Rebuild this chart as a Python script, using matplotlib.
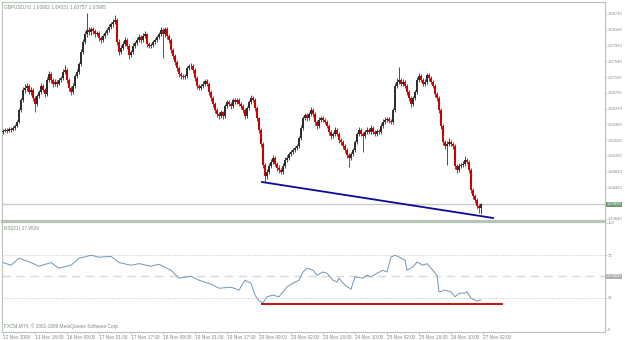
import matplotlib
matplotlib.use("Agg")
import matplotlib.pyplot as plt
import numpy as np

# ---------------- data (GBPUSD, H1) ----------------
first_open = 1.6579
closes = [
    1.6581, 1.6584, 1.6581, 1.6586, 1.6584, 1.6589, 1.6594, 1.6604, 1.6633, 1.6658,
    1.6683, 1.6688, 1.6693, 1.6678, 1.6683, 1.6663, 1.6648, 1.6668, 1.6678, 1.6693,
    1.6683, 1.6673, 1.6708, 1.6722, 1.6708, 1.6698, 1.6703, 1.6698, 1.6708, 1.6712,
    1.6727, 1.6732, 1.6708, 1.6688, 1.6678, 1.6693, 1.6717, 1.6727, 1.6747, 1.6777,
    1.6802, 1.6821, 1.6831, 1.6826, 1.6834, 1.6829, 1.6821, 1.6824, 1.6812, 1.6807,
    1.6817, 1.6824, 1.6831, 1.6839, 1.6846, 1.6851, 1.6856, 1.6802, 1.6777, 1.6787,
    1.6797, 1.6807, 1.6792, 1.6769, 1.6777, 1.6792, 1.6799, 1.6807, 1.6814, 1.6807,
    1.6817, 1.6821, 1.6797, 1.6792, 1.6794, 1.6802, 1.6807, 1.6814, 1.6821, 1.6831,
    1.6821, 1.6834, 1.6817, 1.6807, 1.6782, 1.6767, 1.6752, 1.6737, 1.6722, 1.6717,
    1.6715, 1.6717, 1.6737, 1.6742, 1.6742, 1.6732, 1.6712, 1.6693, 1.6688, 1.6693,
    1.6698, 1.6705, 1.6698, 1.6678, 1.6663, 1.6648, 1.6633, 1.6623, 1.6618, 1.6628,
    1.6618, 1.6643, 1.6653, 1.6648, 1.6643, 1.6658, 1.6653, 1.6658, 1.6648, 1.6643,
    1.6633, 1.6618, 1.6638, 1.6653, 1.6663, 1.6658, 1.6638, 1.6613, 1.6584, 1.6549,
    1.6497, 1.6470, 1.6480, 1.6495, 1.6505, 1.6515, 1.6500, 1.6490, 1.6485, 1.6480,
    1.6495, 1.6510, 1.6515, 1.6524, 1.6529, 1.6534, 1.6539, 1.6544, 1.6564, 1.6589,
    1.6613, 1.6621, 1.6613, 1.6623, 1.6633, 1.6623, 1.6604, 1.6594, 1.6609, 1.6613,
    1.6609, 1.6604, 1.6594, 1.6579, 1.6569, 1.6574, 1.6584, 1.6574, 1.6559, 1.6554,
    1.6544, 1.6534, 1.6522, 1.6515, 1.6524, 1.6534, 1.6554, 1.6574, 1.6584, 1.6574,
    1.6569, 1.6579, 1.6584, 1.6579, 1.6589, 1.6579, 1.6574, 1.6581, 1.6579, 1.6594,
    1.6604, 1.6609, 1.6611, 1.6606, 1.6604, 1.6633, 1.6693, 1.6703, 1.6708, 1.6698,
    1.6703, 1.6693, 1.6678, 1.6663, 1.6648, 1.6663, 1.6678, 1.6708, 1.6717, 1.6708,
    1.6698, 1.6703, 1.6720, 1.6712, 1.6703, 1.6693, 1.6673, 1.6663, 1.6633, 1.6594,
    1.6554, 1.6544, 1.6549, 1.6554, 1.6549, 1.6544, 1.6495, 1.6485, 1.6495, 1.6497,
    1.6500, 1.6510, 1.6505, 1.6485, 1.6435, 1.6420, 1.6411, 1.6396, 1.6390, 1.63995,
]
highs = [
    1.6586, 1.6588, 1.6589, 1.6590, 1.6591, 1.6593, 1.6598, 1.6609, 1.6638, 1.6664,
    1.6690, 1.6697, 1.6700, 1.6698, 1.6691, 1.6688, 1.6667, 1.6673, 1.6684, 1.6700,
    1.6698, 1.6688, 1.6714, 1.6730, 1.6727, 1.6712, 1.6709, 1.6707, 1.6713, 1.6718,
    1.6734, 1.6745, 1.6737, 1.6712, 1.6693, 1.6699, 1.6723, 1.6734, 1.6753, 1.6784,
    1.6810, 1.6829, 1.6873, 1.6838, 1.6840, 1.6839, 1.6833, 1.6830, 1.6828, 1.6817,
    1.6822, 1.6830, 1.6837, 1.6845, 1.6852, 1.6858, 1.6869, 1.6860, 1.6808, 1.6795,
    1.6803, 1.6815, 1.6812, 1.6797, 1.6783, 1.6798, 1.6805, 1.6813, 1.6821, 1.6819,
    1.6824, 1.6829, 1.6825, 1.6802, 1.6799, 1.6807, 1.6812, 1.6820, 1.6827, 1.6838,
    1.6836, 1.6840, 1.6839, 1.6822, 1.6812, 1.6787, 1.6772, 1.6757, 1.6742, 1.6727,
    1.6722, 1.6723, 1.6743, 1.6748, 1.6749, 1.6746, 1.6737, 1.6717, 1.6698, 1.6698,
    1.6704, 1.6711, 1.6709, 1.6703, 1.6683, 1.6668, 1.6653, 1.6638, 1.6628, 1.6634,
    1.6632, 1.6649, 1.6659, 1.6658, 1.6653, 1.6664, 1.6662, 1.6663, 1.6662, 1.6653,
    1.6648, 1.6638, 1.6644, 1.6659, 1.6671, 1.6668, 1.6662, 1.6642, 1.6617, 1.6588,
    1.6553, 1.6501, 1.6487, 1.6502, 1.6512, 1.6522, 1.6519, 1.6505, 1.6496, 1.6490,
    1.6501, 1.6516, 1.6521, 1.6530, 1.6535, 1.6540, 1.6545, 1.6550, 1.6570, 1.6595,
    1.6619, 1.6627, 1.6626, 1.6629, 1.6641, 1.6638, 1.6628, 1.6609, 1.6615, 1.6619,
    1.6618, 1.6614, 1.6609, 1.6599, 1.6584, 1.6580, 1.6590, 1.6589, 1.6579, 1.6564,
    1.6559, 1.6549, 1.6539, 1.6527, 1.6530, 1.6540, 1.6560, 1.6580, 1.6590, 1.6589,
    1.6579, 1.6585, 1.6590, 1.6589, 1.6595, 1.6594, 1.6584, 1.6587, 1.6586, 1.6600,
    1.6610, 1.6615, 1.6617, 1.6616, 1.6611, 1.6639, 1.6700, 1.6712, 1.6740, 1.6713,
    1.6709, 1.6708, 1.6698, 1.6683, 1.6668, 1.6669, 1.6684, 1.6714, 1.6724, 1.6722,
    1.6713, 1.6709, 1.6726, 1.6725, 1.6717, 1.6708, 1.6698, 1.6678, 1.6668, 1.6638,
    1.6599, 1.6559, 1.6556, 1.6565, 1.6560, 1.6555, 1.6549, 1.6500, 1.6501, 1.6503,
    1.6506, 1.6520, 1.6515, 1.6510, 1.6490, 1.6440, 1.6425, 1.6416, 1.6401, 1.64031,
]
lows = [
    1.6575, 1.6578, 1.6577, 1.6578, 1.6580, 1.6581, 1.6585, 1.6590, 1.6600, 1.6628,
    1.6652, 1.6676, 1.6680, 1.6672, 1.6670, 1.6655, 1.6628, 1.6642, 1.6662, 1.6673,
    1.6677, 1.6665, 1.6668, 1.6702, 1.6700, 1.6690, 1.6692, 1.6690, 1.6694, 1.6702,
    1.6707, 1.6722, 1.6700, 1.6680, 1.6670, 1.6673, 1.6688, 1.6712, 1.6722, 1.6742,
    1.6772, 1.6797, 1.6815, 1.6819, 1.6820, 1.6822, 1.6815, 1.6816, 1.6805, 1.6800,
    1.6802, 1.6812, 1.6819, 1.6826, 1.6833, 1.6840, 1.6845, 1.6795, 1.6770, 1.6772,
    1.6782, 1.6792, 1.6785, 1.6760, 1.6764, 1.6772, 1.6787, 1.6794, 1.6802, 1.6800,
    1.6802, 1.6812, 1.6790, 1.6786, 1.6787, 1.6789, 1.6797, 1.6802, 1.6809, 1.6816,
    1.6762, 1.6815, 1.6810, 1.6800, 1.6775, 1.6760, 1.6745, 1.6730, 1.6715, 1.6710,
    1.6709, 1.6709, 1.6712, 1.6732, 1.6736, 1.6726, 1.6705, 1.6686, 1.6682, 1.6683,
    1.6688, 1.6693, 1.6692, 1.6671, 1.6656, 1.6641, 1.6626, 1.6616, 1.6611, 1.6613,
    1.6612, 1.6613, 1.6638, 1.6642, 1.6637, 1.6638, 1.6647, 1.6648, 1.6642, 1.6637,
    1.6627, 1.6611, 1.6613, 1.6633, 1.6648, 1.6652, 1.6631, 1.6606, 1.6577, 1.6542,
    1.6490, 1.6455, 1.6462, 1.6474, 1.6489, 1.6499, 1.6494, 1.6483, 1.6478, 1.6474,
    1.6475, 1.6490, 1.6505, 1.6510, 1.6519, 1.6524, 1.6529, 1.6534, 1.6539, 1.6559,
    1.6584, 1.6608, 1.6607, 1.6608, 1.6618, 1.6617, 1.6597, 1.6587, 1.6589, 1.6603,
    1.6603, 1.6598, 1.6588, 1.6572, 1.6562, 1.6563, 1.6569, 1.6568, 1.6552, 1.6547,
    1.6537, 1.6527, 1.6515, 1.6492, 1.6509, 1.6519, 1.6529, 1.6549, 1.6569, 1.6568,
    1.6530, 1.6563, 1.6574, 1.6573, 1.6574, 1.6573, 1.6568, 1.6569, 1.6573, 1.6574,
    1.6589, 1.6599, 1.6604, 1.6600, 1.6598, 1.6599, 1.6628, 1.6688, 1.6698, 1.6692,
    1.6692, 1.6687, 1.6671, 1.6656, 1.6641, 1.6643, 1.6658, 1.6673, 1.6703, 1.6702,
    1.6692, 1.6692, 1.6698, 1.6706, 1.6697, 1.6687, 1.6666, 1.6656, 1.6626, 1.6587,
    1.6547, 1.6537, 1.6497, 1.6543, 1.6543, 1.6537, 1.6488, 1.6478, 1.6479, 1.6489,
    1.6491, 1.6495, 1.6499, 1.6478, 1.6428, 1.6413, 1.6404, 1.6388, 1.6378, 1.63757,
]

# RSI(21) readings (bar index, value)
rsi_bar = [0, 4, 8, 14, 18, 24, 28, 34, 38, 44, 48, 54, 58, 64, 68, 74, 78, 84, 88,
           94, 98, 104, 108, 114, 118, 121, 124, 126, 128, 130, 132, 135, 138, 140,
           142, 145, 148, 150, 152, 155, 157, 160, 162, 165, 167, 168, 171, 174, 176,
           180, 182, 184, 187, 190, 192, 194, 196, 198, 201, 202, 205, 207, 210, 212,
           214, 217, 218, 221, 224, 226, 228, 231, 232, 234, 237, 239]
rsi_val = [63.0, 60.5, 67.0, 63.0, 59.5, 63.0, 57.7, 60.5, 67.0, 69.8, 68.0, 68.8,
           63.0, 60.5, 62.0, 59.5, 61.4, 55.8, 48.4, 50.2, 46.5, 42.8, 39.0, 40.0,
           37.2, 46.5, 43.7, 32.6, 27.3, 25.4, 31.0, 32.6, 31.0, 35.6, 40.3, 43.7,
           46.5, 54.2, 57.7, 55.8, 51.2, 54.2, 53.0, 46.5, 44.9, 48.4, 41.9, 38.1,
           49.6, 48.4, 51.2, 49.6, 53.0, 55.8, 54.2, 68.2, 69.8, 68.2, 65.1, 55.8,
           58.9, 63.5, 60.5, 62.0, 57.7, 51.2, 35.6, 37.2, 35.6, 31.0, 34.1, 34.7,
           35.6, 29.8, 27.0, 27.95]

price_ticks = [1.68710, 1.68320, 1.67930, 1.67540, 1.67150, 1.66760, 1.66370,
               1.65980, 1.65590, 1.65200, 1.64810, 1.64420, 1.63640]
price_tick_labels = ["1.68710", "1.68320", "1.67930", "1.67540", "1.67150", "1.66760",
                     "1.66370", "1.65980", "1.65590", "1.65200", "1.64810", "1.64420",
                     "1.63640"]
time_tick_bars = [0, 16, 32, 48, 64, 80, 96, 112, 128, 144, 160, 176, 192, 208, 224, 240]
time_tick_labels = ["12 Nov 2009", "13 Nov 16:00", "16 Nov 09:00", "17 Nov 01:00",
                    "17 Nov 17:00", "18 Nov 09:00", "19 Nov 01:00", "19 Nov 17:00",
                    "20 Nov 09:00", "23 Nov 02:00", "23 Nov 18:00", "24 Nov 10:00",
                    "25 Nov 02:00", "25 Nov 18:00", "26 Nov 10:00", "27 Nov 02:00"]
rsi_ticks = [100, 70, 30, 0]
rsi_tick_labels = ["100", "70", "30", "0"]
rsi_levels_dotted = [70, 30]
rsi_level_dashed = 50

trend_price_bars = [129.5, 245.0]
trend_price_vals = [1.6455, 1.6366]
trend_rsi_bars = [129.5, 249.5]
trend_rsi_vals = [24.2, 24.2]

header = "GBPUSD,H1 1.63902 1.64031 1.63757 1.63995"
rsi_header = "RSI(21) 27.9529"
footer = "FXCM MT4, \u00a9 2001-2009 MetaQuotes Software Corp."

# ---------------- styling ----------------
plt.rcParams["font.family"] = ["Liberation Sans", "DejaVu Sans"]
W, H = 625, 340
fig = plt.figure(figsize=(W / 100, H / 100), dpi=100)
fig.patch.set_facecolor("white")
TXT = "#7d8c7d"
FRAME = "#b8c4b8"
FS = 3.0
FSX = 3.4

def fx(px):
    return px / W

def fy(py):
    return 1 - py / H

RIGHT = 605
ax = fig.add_axes([fx(2), fy(221), fx(RIGHT) - fx(2), fy(2) - fy(221)])
axr = fig.add_axes([fx(2), fy(332), fx(RIGHT) - fx(2), fy(222) - fy(332)], sharex=ax)

n = len(closes)
idx = np.arange(n)
opens = np.array([first_open] + closes[:-1])
c = np.array(closes)
hi = np.array(highs)
lo = np.array(lows)
bull = c >= opens
BULL = "#2e2e2e"
BEAR = "#d10000"
cols = np.where(bull, BULL, BEAR)

ax.vlines(idx, lo, hi, colors=cols, linewidth=0.6, zorder=3)
body_lo = np.minimum(opens, c)
body_h = np.maximum(np.abs(c - opens), 0.00008)
ax.bar(idx, body_h, bottom=body_lo, width=0.55, color=cols, linewidth=0, zorder=3)

# current price line
last = closes[-1]
ax.axhline(last, color="#c9cdc9", linewidth=1.0, zorder=1)
# trend line
ax.plot(trend_price_bars, trend_price_vals, color="#0a0a9a", linewidth=1.3, zorder=4)

ax.set_xlim(-0.5, 301)
ax.set_ylim(1.63585, 1.69007)

# right axis for price
ax.yaxis.tick_right()
ax.set_yticks(price_ticks)
ax.set_yticklabels(price_tick_labels)
ax.tick_params(axis="y", length=1.5, width=0.5, color=FRAME, labelsize=FS,
               labelcolor=TXT, pad=0.5)
ax.tick_params(axis="x", bottom=False, labelbottom=False)
for s in ax.spines.values():
    s.set_color(FRAME)
    s.set_linewidth(0.8)
ax.spines["bottom"].set_linewidth(1.6)

# current price box
ax.annotate("1.63995", xy=(1.0, last), xycoords=("axes fraction", "data"),
            xytext=(1.0, 0), textcoords="offset points", ha="left", va="center",
            fontsize=FS, color="white",
            bbox=dict(boxstyle="square,pad=0.12", fc="#6f9c6f", ec="none"))

ax.text(0.004, 0.988, header, transform=ax.transAxes, ha="left", va="top",
        fontsize=FSX, color=TXT)

# ---------------- RSI panel ----------------
axr.plot(rsi_bar, rsi_val, color="#6f95b5", linewidth=0.7, zorder=3)
for lv in rsi_levels_dotted:
    axr.axhline(lv, color="#c4c4c4", linewidth=0.7, linestyle=(0, (1, 1.5)), zorder=1)
axr.axhline(rsi_level_dashed, color="#d8d8d8", linewidth=1.0, linestyle=(0, (6, 4)),
            zorder=1)
axr.plot(trend_rsi_bars, trend_rsi_vals, color="#cc1010", linewidth=1.4, zorder=4)

axr.set_ylim(-1.9, 100.9)
axr.yaxis.tick_right()
axr.set_yticks(rsi_ticks)
axr.set_yticklabels(rsi_tick_labels)
axr.tick_params(axis="y", length=1.5, width=0.5, color=FRAME, labelsize=FS,
                labelcolor=TXT, pad=0.5)
axr.annotate("50.0000", xy=(1.0, rsi_level_dashed), xycoords=("axes fraction", "data"),
             xytext=(1.0, 0), textcoords="offset points", ha="left", va="center",
             fontsize=FS, color="white",
             bbox=dict(boxstyle="square,pad=0.12", fc="#b0b0b0", ec="none"))

axr.set_xticks(time_tick_bars)
axr.set_xticklabels(time_tick_labels)
axr.tick_params(axis="x", length=2, width=0.5, color=FRAME, labelsize=FSX,
                labelcolor=TXT, pad=0.5)
for lbl in axr.get_xticklabels():
    lbl.set_ha("left")
for s in axr.spines.values():
    s.set_color(FRAME)
    s.set_linewidth(0.8)
axr.spines["top"].set_linewidth(1.6)

axr.text(0.004, 0.965, rsi_header, transform=axr.transAxes, ha="left", va="top",
         fontsize=FSX, color=TXT)
axr.text(0.004, 0.03, footer, transform=axr.transAxes, ha="left", va="bottom",
         fontsize=FSX, color=TXT)

fig.savefig("out.png", dpi=100, facecolor="white")
